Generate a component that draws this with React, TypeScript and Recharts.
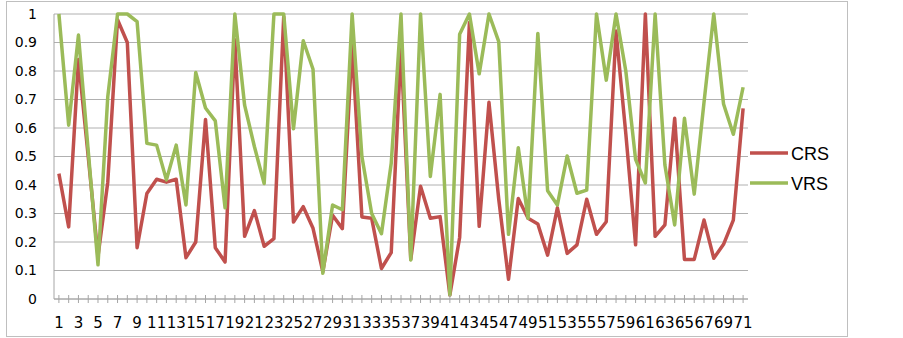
import React from 'react';
import { LineChart, Line, XAxis, YAxis, CartesianGrid, Legend } from 'recharts';

const categories = [
  '1', '2', '3', '4', '5', '6', '7', '8', '9', '10',
  '11', '12', '13', '14', '15', '16', '17', '18', '19', '20',
  '21', '22', '23', '24', '25', '26', '27', '28', '29', '30',
  '31', '32', '33', '34', '35', '36', '37', '38', '39', '40',
  '41', '42', '43', '44', '45', '46', '47', '48', '49', '50',
  '51', '52', '53', '54', '55', '56', '57', '58', '59', '60',
  '61', '62', '63', '64', '65', '66', '67', '68', '69', '70', '71',
];

const crsValues = [
  0.44, 0.253, 0.84, 0.5, 0.15, 0.41, 0.98, 0.9, 0.18, 0.37,
  0.42, 0.41, 0.42, 0.145, 0.2, 0.63, 0.18, 0.13, 0.91, 0.22,
  0.31, 0.185, 0.212, 0.99, 0.27, 0.324, 0.248, 0.096, 0.294, 0.247,
  0.89, 0.288, 0.283, 0.107, 0.163, 0.88, 0.139, 0.396, 0.283, 0.289,
  0.014, 0.216, 0.97, 0.255, 0.69, 0.35, 0.069, 0.353, 0.283, 0.263,
  0.154, 0.32, 0.16, 0.19, 0.35, 0.227, 0.271, 0.94, 0.58, 0.19,
  1.0, 0.22, 0.26, 0.634, 0.139, 0.139, 0.277, 0.143, 0.192, 0.277, 0.669,
];

const vrsValues = [
  1.0, 0.61, 0.926, 0.52, 0.12, 0.71, 1.0, 1.0, 0.973, 0.546,
  0.54, 0.418, 0.54, 0.33, 0.795, 0.67, 0.625, 0.32, 1.0, 0.68,
  0.535, 0.405, 1.0, 1.0, 0.597, 0.906, 0.806, 0.09, 0.33, 0.313,
  1.0, 0.5, 0.3, 0.229, 0.476, 1.0, 0.137, 1.0, 0.43, 0.718,
  0.014, 0.929, 1.0, 0.79, 1.0, 0.903, 0.227, 0.531, 0.283, 0.932,
  0.38, 0.33, 0.502, 0.371, 0.382, 1.0, 0.768, 1.0, 0.8, 0.49,
  0.407, 1.0, 0.47, 0.26, 0.634, 0.368, 0.69, 1.0, 0.684, 0.578, 0.743,
];

const yTicks = [0, 0.1, 0.2, 0.3, 0.4, 0.5, 0.6, 0.7, 0.8, 0.9, 1];

const seriesNames = ['CRS', 'VRS'];
const seriesColors = ['#C0504D', '#9BBB59'];

const data = categories.map((c, i) => ({
  name: c,
  CRS: crsValues[i],
  VRS: vrsValues[i],
}));

const AXIS_COLOR = '#A6A6A6';
const FONT = "'DejaVu Sans', sans-serif";

const XTick = (props: any) => {
  const { x, y, payload } = props;
  const showLabel = Number(payload.value) % 2 === 1;
  return (
    <g>
      <line x1={x} x2={x} y1={y - 4} y2={y + 4} stroke={AXIS_COLOR} strokeWidth={1} />
      {showLabel && (
        <text x={x} y={y + 29} textAnchor="middle" fontSize={15} fontFamily={FONT} fill="#000">
          {payload.value}
        </text>
      )}
    </g>
  );
};

const renderLegend = (props: any) => {
  const payload = props.payload || [];
  return (
    <svg width={110} height={60} style={{ display: 'block' }}>
      {payload.map((entry: any, i: number) => (
        <g key={entry.value}>
          <line x1={2} x2={40} y1={15 + i * 30} y2={15 + i * 30} stroke={entry.color} strokeWidth={3.5} />
          <text x={43} y={21.5 + i * 30} fontSize={18} fontFamily="'Liberation Sans', Arial, sans-serif" fill="#000">
            {entry.value}
          </text>
        </g>
      ))}
    </svg>
  );
};

export default function App() {
  return (
    <div style={{ position: 'absolute', left: 0, top: 0, width: 903, height: 338, background: '#fff' }}>
      <div
        style={{
          position: 'absolute',
          left: 6,
          top: 1,
          width: 842,
          height: 336,
          border: '1px solid #BFBFBF',
          boxSizing: 'border-box',
        }}
      />
      <div style={{ position: 'absolute', left: 0, top: 0 }}>
        <LineChart width={903} height={338} data={data} margin={{ top: 14, right: 45, bottom: 0, left: 0 }}>
          <CartesianGrid vertical={false} stroke="#B0B0B0" strokeWidth={1} />
          <XAxis
            dataKey="name"
            height={39}
            interval={0}
            tickLine={false}
            tickSize={0}
            tickMargin={0}
            padding={{ left: 4.9, right: 4.9 }}
            axisLine={{ stroke: AXIS_COLOR }}
            tick={<XTick />}
          />
          <YAxis
            width={54}
            domain={[0, 1]}
            ticks={yTicks}
            interval={0}
            tickLine={false}
            tickSize={0}
            tickMargin={17}
            axisLine={{ stroke: AXIS_COLOR }}
            tickFormatter={(v: number) => String(v)}
            tick={{ fill: '#000', fontSize: 14, fontFamily: FONT }}
          />
          <Legend
            layout="vertical"
            align="right"
            verticalAlign="top"
            wrapperStyle={{ left: 748, top: 138, right: 'auto', width: 110, height: 60 }}
            content={renderLegend}
          />
          {seriesNames.map((s, i) => (
            <Line
              key={s}
              type="linear"
              dataKey={s}
              stroke={seriesColors[i]}
              strokeWidth={3.5}
              strokeLinejoin="round"
              dot={false}
              activeDot={false}
              isAnimationActive={false}
            />
          ))}
        </LineChart>
      </div>
    </div>
  );
}
